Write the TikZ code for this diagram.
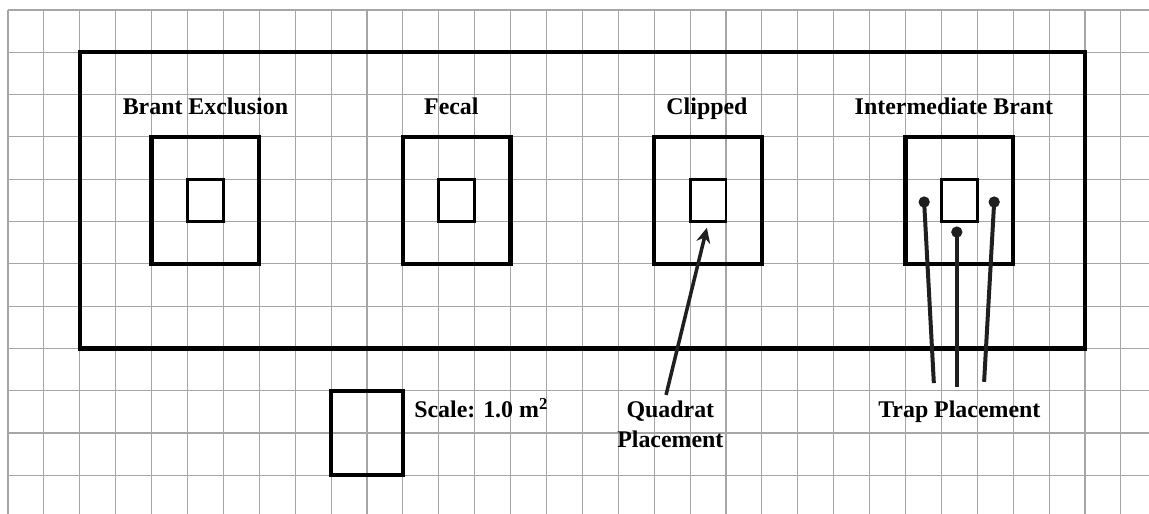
\documentclass[tikz,border=0pt]{standalone}
\usepackage{fontspec}
\setmainfont{Liberation Serif}
\usetikzlibrary{arrows.meta}

\begin{document}
\begin{tikzpicture}[x=1.077cm, y=-1.269cm,
    gridline/.style={gray!70, line width=1pt},
    frame/.style={black, line width=3.6pt},
    plotbox/.style={draw, line width=3.6pt, minimum width=3.231cm, minimum height=3.807cm, inner sep=0pt},
    quadbox/.style={draw, line width=2.4pt, minimum width=1.077cm, minimum height=1.269cm, inner sep=0pt},
    lbl/.style={font=\fontsize{20.4}{25.5}\selectfont\bfseries, inner sep=0pt},
    pointer/.style={black!88, line width=3pt, -{Stealth[length=0.45cm,width=0.42cm]}},
    trapline/.style={black!88, line width=3.4pt},
    trapdot/.style={circle, fill=black!88, minimum size=0.34cm, inner sep=0pt}]
                \useasboundingbox[fill=white] (-0.2228,-0.2364) rectangle (31.783,11.915);
                % Grid
                \foreach \i in {0,...,31} \draw[gridline] (\i,0) -- (\i,11.915);
                \foreach \j in {0,...,11} \draw[gridline] (0,\j) -- (31.783,\j);
                % Plot frame
                \draw[frame] (2,1) rectangle (30,8);
                % Plots and quadrats
                \foreach \cx/\nm in {5.5/bex, 12.5/fec, 19.5/clp, 26.5/itb} {
                    \node[plotbox] (\nm) at (\cx,4.5) {};
                    \node[quadbox] (\nm q) at (\cx,4.5) {};
                }
                % Labels
                \node[lbl, anchor=base] (bexlbl) at (5.5,2.48) {Brant Exclusion};
                \node[lbl, anchor=base] (feclbl) at (12.35,2.48) {Fecal};
                \node[lbl, anchor=base] (clplbl) at (19.47,2.48) {Clipped};
                \node[lbl, anchor=base] (itblbl) at (26.35,2.48) {Intermediate Brant};
                
                % Scale
                \node[plotbox, minimum width=2.154cm, minimum height=2.538cm] (scalebox) at (10,10) {};
                \node[lbl, anchor=base west] (scalelbl) at (11.31,9.645) {Scale: 1.0 m\textsuperscript{2}};
                
                % Quadrat placement
                \node[lbl, anchor=north, align=center] (quad) at (18.45,9.23) {Quadrat\\Placement};
                \draw[pointer, shorten >=0.15cm] ([shift={(-0.12,-0.13)}]quad.north) -- (clpq.south);
                
                % Trap placement
                \node[lbl, anchor=base] (trap) at (26.5,9.645) {Trap Placement};
                \node[trapdot] (dot1) at (25.52,4.54) {};
                \node[trapdot] (dot2) at (26.43,5.25) {};
                \node[trapdot] (dot3) at (27.47,4.54) {};
                \coordinate (tp1) at (25.79,8.82);
                \coordinate (tp2) at (26.43,8.91);
                \coordinate (tp3) at (27.19,8.79);
                \draw[trapline] (tp1) -- (dot1.center);
                \draw[trapline] (tp2) -- (dot2.center);
                \draw[trapline] (tp3) -- (dot3.center);
            \end{tikzpicture}
\end{document}
